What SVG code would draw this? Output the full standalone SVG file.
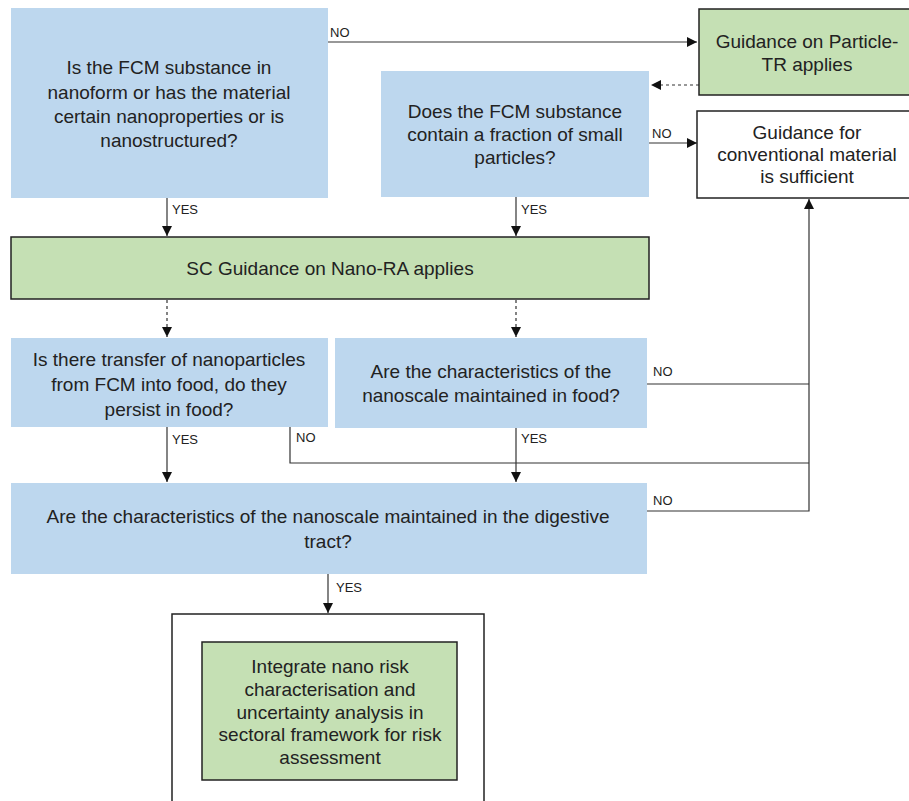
<svg xmlns="http://www.w3.org/2000/svg" width="909" height="801" viewBox="0 0 909 801">
<defs>
<marker id="ah" viewBox="0 0 10 10" refX="10" refY="5" markerWidth="10" markerHeight="10" markerUnits="userSpaceOnUse" orient="auto">
<path d="M0,0 L10,5 L0,10 Z" fill="#111"/>
</marker>
</defs>
<style>
.blue{fill:#BDD7EE;stroke:none}
.green{fill:#C5E0B4;stroke:#222;stroke-width:1.5}
.white{fill:#fff;stroke:#222;stroke-width:1.5}
.t{font-family:"Liberation Sans",Arial,sans-serif;font-size:19px;fill:#222;text-anchor:middle}
.l{font-family:"Liberation Sans",Arial,sans-serif;font-size:13px;fill:#222}
.c{fill:none;stroke:#333;stroke-width:1.2}
.d{fill:none;stroke:#333;stroke-width:1.2;stroke-dasharray:3,3}
</style>
<rect width="909" height="801" fill="#fff"/>
<g id="connectors">
<path class="c" d="M328,42 H697" marker-end="url(#ah)"/>
<path class="d" d="M699,85 H651" marker-end="url(#ah)"/>
<path class="c" d="M649,143 H697" marker-end="url(#ah)"/>
<path class="c" d="M167,198 V236" marker-end="url(#ah)"/>
<path class="c" d="M516,197 V236" marker-end="url(#ah)"/>
<path class="d" d="M167,300 V337" marker-end="url(#ah)"/>
<path class="d" d="M516,300 V337" marker-end="url(#ah)"/>
<path class="c" d="M647,384 H809"/>
<path class="c" d="M167,427 V482" marker-end="url(#ah)"/>
<path class="c" d="M516,428 V482" marker-end="url(#ah)"/>
<path class="c" d="M290,427 V463 H809"/>
<path class="c" d="M647,511 H809 V199" marker-end="url(#ah)"/>
<path class="c" d="M328,574 V613" marker-end="url(#ah)"/>
<text class="l" x="330" y="37">NO</text>
<text class="l" x="652" y="138">NO</text>
<text class="l" x="172" y="214">YES</text>
<text class="l" x="521" y="214">YES</text>
<text class="l" x="653" y="376">NO</text>
<text class="l" x="172" y="444">YES</text>
<text class="l" x="296" y="442">NO</text>
<text class="l" x="521" y="443">YES</text>
<text class="l" x="653" y="505">NO</text>
<text class="l" x="336" y="592">YES</text>
</g>
<g id="q1">
<rect class="blue" x="11" y="8" width="317" height="190"/>
<text class="t" x="169" y="74">Is the FCM substance in</text>
<text class="t" x="169" y="99">nanoform or has the material</text>
<text class="t" x="169" y="123">certain nanoproperties or is</text>
<text class="t" x="169" y="147">nanostructured?</text>
</g>
<g id="particle-tr">
<rect class="green" x="699" y="9" width="215" height="86"/>
<text class="t" x="807" y="48">Guidance on Particle-</text>
<text class="t" x="807" y="71">TR applies</text>
</g>
<g id="q2">
<rect class="blue" x="381" y="71" width="268" height="126"/>
<text class="t" x="515" y="118">Does the FCM substance</text>
<text class="t" x="515" y="141">contain a fraction of small</text>
<text class="t" x="515" y="164">particles?</text>
</g>
<g id="conventional">
<rect class="white" x="697" y="111" width="217" height="87"/>
<text class="t" x="807" y="139">Guidance for</text>
<text class="t" x="807" y="161">conventional material</text>
<text class="t" x="807" y="183">is sufficient</text>
</g>
<g id="nano-ra">
<rect class="green" x="11" y="237" width="638" height="62"/>
<text class="t" x="330" y="275">SC Guidance on Nano-RA applies</text>
</g>
<g id="q3">
<rect class="blue" x="11" y="338" width="317" height="89"/>
<text class="t" x="169" y="366">Is there transfer of nanoparticles</text>
<text class="t" x="169" y="391">from FCM into food, do they</text>
<text class="t" x="169" y="416">persist in food?</text>
</g>
<g id="q4">
<rect class="blue" x="335" y="338" width="312" height="90"/>
<text class="t" x="491" y="378">Are the characteristics of the</text>
<text class="t" x="491" y="402">nanoscale maintained in food?</text>
</g>
<g id="q5">
<rect class="blue" x="11" y="483" width="636" height="91"/>
<text class="t" x="328" y="523">Are the characteristics of the nanoscale maintained in the digestive</text>
<text class="t" x="328" y="548">tract?</text>
</g>
<g id="outer">
<rect class="white" x="172" y="614" width="312" height="200"/>
</g>
<g id="integrate">
<rect class="green" x="202" y="642" width="255" height="138"/>
<text class="t" x="330" y="673">Integrate nano risk</text>
<text class="t" x="330" y="696">characterisation and</text>
<text class="t" x="330" y="719">uncertainty analysis in</text>
<text class="t" x="330" y="741">sectoral framework for risk</text>
<text class="t" x="330" y="764">assessment</text>
</g>
</svg>
